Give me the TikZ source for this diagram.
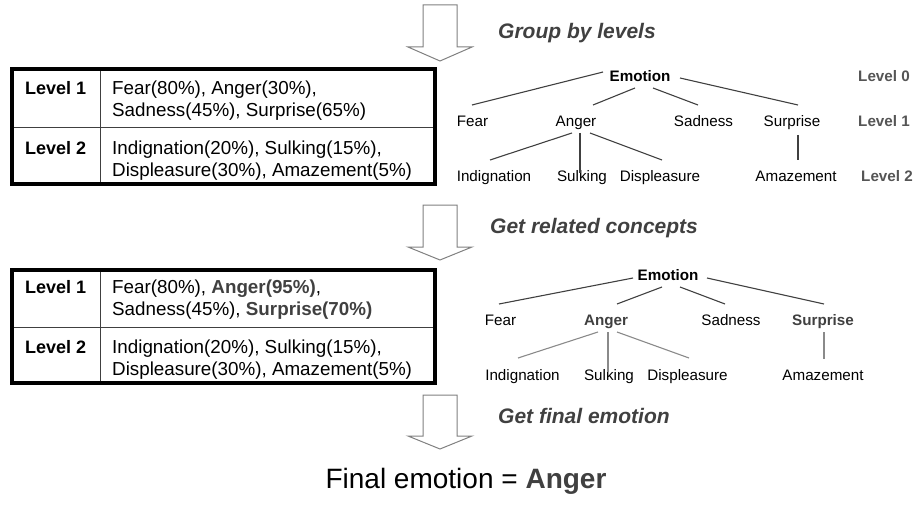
\documentclass[tikz,border=0pt]{standalone}
\usepackage{fontspec}
\setmainfont{Liberation Sans}
\usetikzlibrary{calc}
\definecolor{hl}{HTML}{404040}
\definecolor{arrowgray}{HTML}{808080}
\definecolor{linegray}{HTML}{404040}
\definecolor{lightline}{HTML}{8a8a8a}
\definecolor{lvlgray}{HTML}{555555}
\begin{document}
\begin{tikzpicture}[x=1pt,y=-1pt,
  tn/.style={inner sep=0pt, text height=10.7pt, text depth=0pt, font=\fontsize{15.2}{18}\selectfont},
  tnb/.style={tn, font=\fontsize{15.2}{18}\selectfont\bfseries},
  tnh/.style={tn, text=hl, font=\fontsize{15.2}{18}\selectfont\bfseries},
  lvl/.style={tn, text=lvlgray, font=\fontsize{15.2}{18}\selectfont\bfseries},
  head/.style={inner sep=0pt, anchor=west, text height=14.3pt, text depth=0pt, text=hl, font=\fontsize{21}{24}\selectfont\bfseries\itshape},
  cell/.style={inner sep=0pt, anchor=west, text height=13.2pt, text depth=0pt, font=\fontsize{18.8}{22}\selectfont},
  lab/.style={inner sep=0pt, anchor=west, text height=12.9pt, text depth=0pt, font=\fontsize{18}{22}\selectfont\bfseries},
  tbl/.style={draw=black, line width=4pt, minimum width=422.5pt, minimum height=114.5pt, inner sep=0pt, outer sep=0pt},
  gridline/.style={draw=black!75, line width=1pt},
  edge/.style={draw=linegray, line width=1.1pt},
  edgel/.style={draw=lightline, line width=1.1pt},
  blockarrow/.style={draw=arrowgray, fill=white, line width=1pt, line join=miter},
]
\useasboundingbox (0,0) rectangle (918,508);

% ---------- arrows ----------
\draw[blockarrow] (423,5) -- (457,5) -- (457,47) -- (472,47) -- (440,61) -- (408,47) -- (423,47) -- cycle;
\draw[blockarrow] (423,205) -- (457,205) -- (457,247) -- (472,247) -- (440,260) -- (408,247) -- (423,247) -- cycle;
\draw[blockarrow] (423,395) -- (457,395) -- (457,436) -- (472,436) -- (440,449) -- (408,436) -- (423,436) -- cycle;

% ---------- headings ----------
\node[head] (h1) at (498,31.5) {Group by levels};
\node[head] (h2) at (490,226) {Get related concepts};
\node[head] (h3) at (498,416.5) {Get final emotion};

% ---------- table 1 ----------
\draw[gridline] (100,69.5) -- (100,184);
\draw[gridline] (12,128) -- (434.5,128);
\node[tbl] (tab1) at (223.25,126.75) {};
\node[lab] (t1a) at (25,88) {Level 1};
\node[lab] (t1b) at (25,148) {Level 2};
\node[cell] (t1c1) at (112,88) {Fear(80\%), Anger(30\%),};
\node[cell] (t1c2) at (112,110) {Sadness(45\%), Surprise(65\%)};
\node[cell] (t1c3) at (112,148) {Indignation(20\%), Sulking(15\%),};
\node[cell] (t1c4) at (112,170) {Displeasure(30\%), Amazement(5\%)};

% ---------- table 2 ----------
\draw[gridline] (100,269.5) -- (100,383);
\draw[gridline] (12,327) -- (434.5,327);
\node[tbl, minimum height=113.5pt] (tab2) at (223.25,326.25) {};
\node[lab] (t2a) at (25,287) {Level 1};
\node[lab] (t2b) at (25,347) {Level 2};
\node[cell] (t2c1) at (112,287) {Fear(80\%), {\bfseries\color{hl}Anger(95\%)},};
\node[cell] (t2c2) at (112,309) {Sadness(45\%), {\bfseries\color{hl}Surprise(70\%)}};
\node[cell] (t2c3) at (112,347) {Indignation(20\%), Sulking(15\%),};
\node[cell] (t2c4) at (112,369) {Displeasure(30\%), Amazement(5\%)};

% ---------- tree 1 ----------
\node[tnb] (emo1) at (640,76) {Emotion};
\node[tn] (fear1) at (472.5,121.5) {Fear};
\node[tn] (anger1) at (576,121.5) {Anger};
\node[tn] (sad1) at (703.5,121.5) {Sadness};
\node[tn] (sur1) at (792,121.5) {Surprise};
\node[tn] (ind1) at (494,176.5) {Indignation};
\node[tn] (sulk1) at (582,176.5) {Sulking};
\node[tn] (disp1) at (660,176.5) {Displeasure};
\node[tn] (amaz1) at (796,176.5) {Amazement};
\node[lvl] (lv0) at (884,76) {Level 0};
\node[lvl] (lv1) at (884,121.5) {Level 1};
\node[lvl] (lv2) at (887,176.5) {Level 2};

\draw[edge] ($(emo1)+(-37,-4)$) -- ($(fear1)+(-0.5,-16.5)$);
\draw[edge] ($(emo1)+(-5,12)$) -- ($(anger1)+(17,-16.5)$);
\draw[edge] ($(emo1)+(13,12)$) -- ($(sad1)+(-5.5,-16.5)$);
\draw[edge] ($(emo1)+(40,2)$) -- ($(sur1)+(6,-16.5)$);
\draw[edge] ($(anger1)+(-4,11.5)$) -- ($(ind1)+(-4,-16.5)$);
\draw[edge] ($(anger1)+(4,11.5)$) -- ($(sulk1)+(-2,-3.5)$);
\draw[edge] ($(anger1)+(14,11.5)$) -- ($(disp1)+(2,-16.5)$);
\draw[edge] ($(sur1)+(6,13.5)$) -- ($(amaz1)+(2,-16.5)$);

% ---------- tree 2 ----------
\node[tnb] (emo2) at (668,275.5) {Emotion};
\node[tn] (fear2) at (500.5,320.5) {Fear};
\node[tnh] (anger2) at (606,320.5) {Anger};
\node[tn] (sad2) at (731,320.5) {Sadness};
\node[tnh] (sur2) at (823,320.5) {Surprise};
\node[tn] (ind2) at (522.5,375) {Indignation};
\node[tn] (sulk2) at (609,375) {Sulking};
\node[tn] (disp2) at (687.5,375) {Displeasure};
\node[tn] (amaz2) at (823,375) {Amazement};

\draw[edge] ($(emo2)+(-35,2.5)$) -- ($(fear2)+(-1.5,-16.5)$);
\draw[edge] ($(emo2)+(-6,11.5)$) -- ($(anger2)+(11,-16.5)$);
\draw[edge] ($(emo2)+(12,11.5)$) -- ($(sad2)+(-6,-16.5)$);
\draw[edge] ($(emo2)+(39,2.5)$) -- ($(sur2)+(1,-16.5)$);
\draw[edgel] ($(anger2)+(-8,11.5)$) -- ($(ind2)+(-4.5,-17)$);
\draw[edgel] ($(anger2)+(2,11.5)$) -- ($(sulk2)+(-1,-3)$);
\draw[edgel] ($(anger2)+(11,11.5)$) -- ($(disp2)+(1.5,-17)$);
\draw[edgel] ($(sur2)+(1,11.5)$) -- ($(amaz2)+(1,-16)$);

% ---------- final ----------
\node[inner sep=0pt, text height=19.3pt, text depth=0pt, font=\fontsize{28}{32}\selectfont] (final) at (466,479) {Final emotion = {\bfseries\color{hl}Anger}};
\end{tikzpicture}
\end{document}
